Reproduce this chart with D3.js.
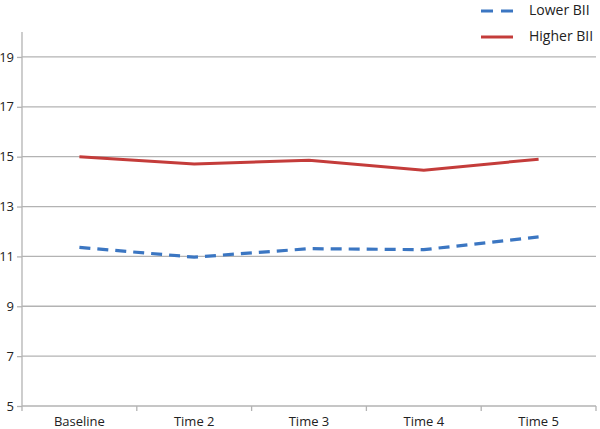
<!DOCTYPE html>
<html><head><meta charset="utf-8">
<script src="https://cdn.jsdelivr.net/npm/d3@7"></script>
<style>body{margin:0;background:#fff}svg{display:block}text{font-family:"Open Sans",sans-serif;fill:#222}</style>
</head><body><svg id="c" width="600" height="429"></svg>
<script>
const categories = ["Baseline","Time 2","Time 3","Time 4","Time 5"];
const lowerBII = [11.36, 10.97, 11.31, 11.27, 11.78];
const higherBII = [15.0, 14.71, 14.86, 14.46, 14.9];
const yTicks = [5,7,9,11,13,15,17,19];
const seriesNames = ["Lower BII","Higher BII"];

const svg = d3.select("#c");
const L=22, R=596, T=32, B=406;
const x = d3.scaleBand().domain(categories).range([L,R]);
const y = d3.scaleLinear().domain([5,20]).range([B,T]);
const grid="#b3b3b3";

// gridlines
svg.append("g").selectAll("line").data(yTicks.filter(d=>d>5)).join("line")
  .attr("x1",L).attr("x2",R).attr("y1",d=>y(d)).attr("y2",d=>y(d))
  .attr("stroke",grid).attr("stroke-width",1.3);

// y axis
const ya = svg.append("g").attr("transform",`translate(${L},0)`)
  .call(d3.axisLeft(y).tickValues(yTicks).tickSize(5).tickPadding(3));
ya.select(".domain").attr("stroke",grid).attr("stroke-width",1.3).attr("d",`M-0,${T}V${B}`);
ya.selectAll(".tick line").attr("stroke",grid).attr("stroke-width",1.3);
ya.selectAll("text").attr("font-size",13).style("fill","#222");

// x axis
const xa = svg.append("g").attr("transform",`translate(0,${B})`)
  .call(d3.axisBottom(x).tickSize(0).tickPadding(11));
xa.select(".domain").attr("stroke",grid).attr("stroke-width",1.3).attr("d",`M${L},0H${R}`);
xa.selectAll("text").attr("font-size",13).style("fill","#222");
const bounds = categories.map(c=>x(c)).concat([R]);
xa.selectAll(".bt").data(bounds).join("line").attr("class","bt")
  .attr("x1",d=>d).attr("x2",d=>d).attr("y1",0).attr("y2",5)
  .attr("stroke",grid).attr("stroke-width",1.3);

const cx = c=>x(c)+x.bandwidth()/2;
const line = d3.line().x((d,i)=>cx(categories[i])).y(d=>y(d));

svg.append("path").datum(lowerBII).attr("d",line).attr("fill","none")
  .attr("stroke","#3b76c2").attr("stroke-width",3.2).attr("stroke-dasharray","11,7");
svg.append("path").datum(higherBII).attr("d",line).attr("fill","none")
  .attr("stroke","#c43c3a").attr("stroke-width",3);

// legend
const lg = svg.append("g");
const items = [{n:seriesNames[0],c:"#3b76c2",dash:"12,8",y:11},{n:seriesNames[1],c:"#c43c3a",dash:null,y:37}];
items.forEach(it=>{
  lg.append("line").attr("x1",481).attr("x2",513).attr("y1",it.y).attr("y2",it.y)
    .attr("stroke",it.c).attr("stroke-width",3).attr("stroke-dasharray",it.dash);
  lg.append("text").attr("x",529).attr("y",it.y-1).attr("dy","0.35em").attr("font-size",14).text(it.n);
});
</script></body></html>
